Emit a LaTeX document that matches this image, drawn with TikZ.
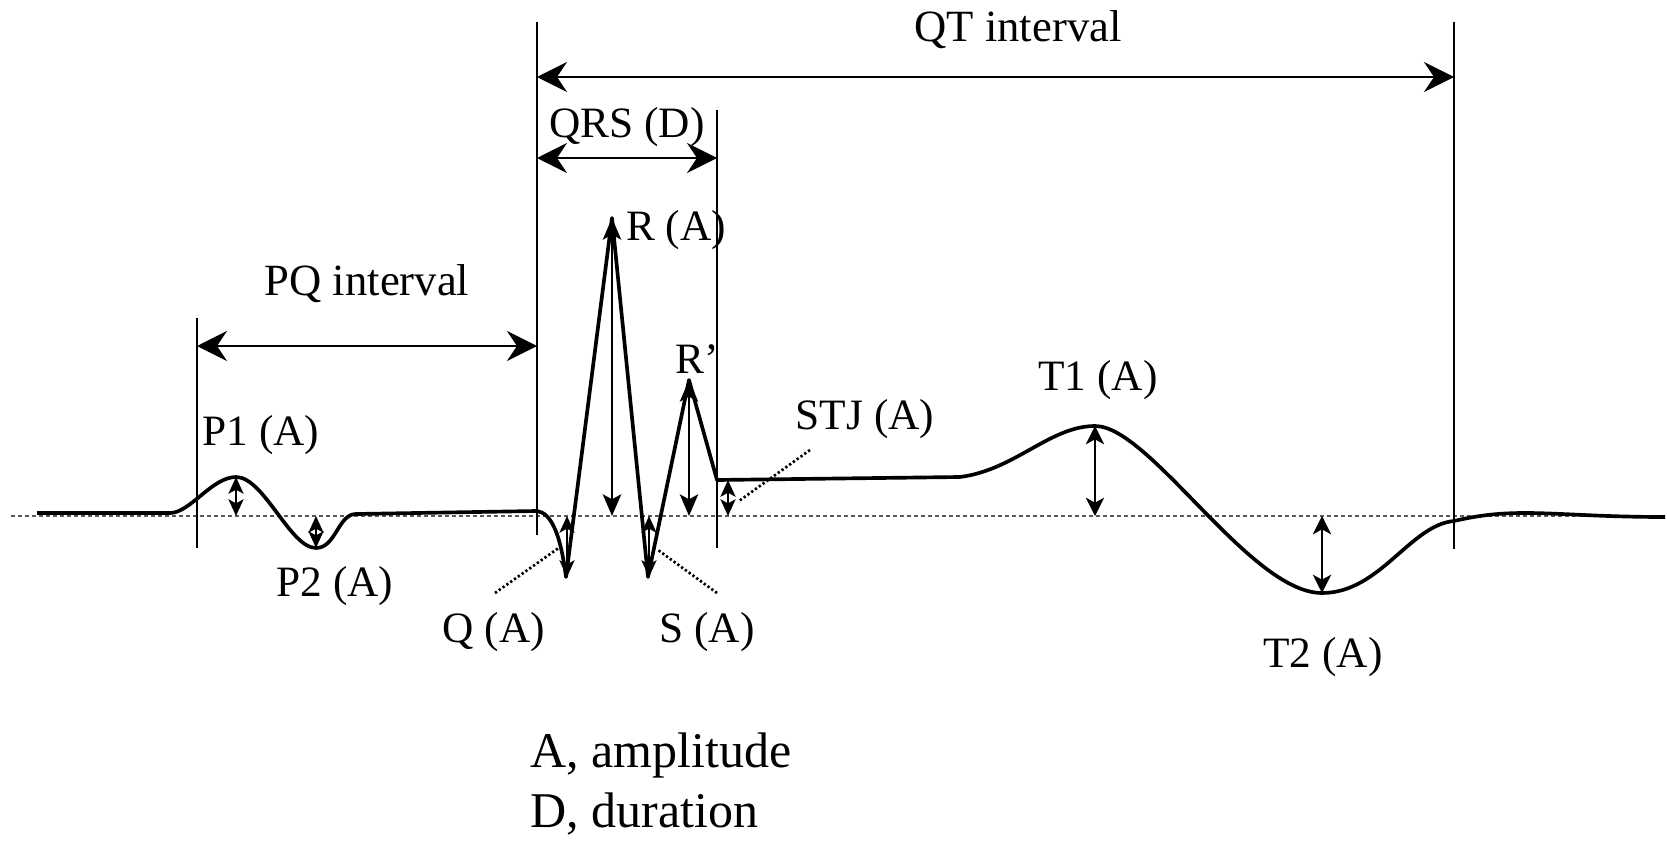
\documentclass[tikz,border=0pt]{standalone}
\usepackage{fontspec}
\setmainfont{Liberation Serif}
\usetikzlibrary{arrows.meta}

\begin{document}
\begin{tikzpicture}[
    x=0.3pt,
    y=-0.3pt,
    signal/.style={line width=1.1pt, line join=round},
    bar/.style={line width=0.85pt},
    span/.style={
        line width=0.55pt,
        {Stealth[length=9pt,width=9pt,inset=3pt]}-{Stealth[length=9pt,width=9pt,inset=3pt]}
      },
    bigamp/.style={
        line width=0.65pt,
        {Stealth[length=6.5pt,width=5.5pt,inset=1.5pt]}-{Stealth[length=6.5pt,width=5.5pt,inset=1.5pt]}
      },
    midamp/.style={
        line width=0.6pt,
        {Stealth[length=5.5pt,width=5.5pt,inset=1.5pt]}-{Stealth[length=5.5pt,width=5.5pt,inset=1.5pt]}
      },
    smallamp/.style={
        line width=0.7pt,
        {Stealth[length=5pt,width=4.5pt,inset=1.2pt]}-{Stealth[length=5pt,width=4.5pt,inset=1.2pt]}
      },
    leader/.style={line width=0.8pt, dash pattern=on 0.7pt off 0.7pt},
    lbl/.style={anchor=base, inner sep=0pt, font=\fontsize{13}{15}\selectfont},
    spanlbl/.style={anchor=base, inner sep=0pt, font=\fontsize{13.4}{16}\selectfont},
    keylbl/.style={anchor=base west, inner sep=0pt, font=\fontsize{15}{18}\selectfont}
  ]
    % Frame of the picture
    \useasboundingbox (0,0) rectangle (1667,850);

    % Wave landmarks
    \coordinate (base) at (0,516);
    \coordinate (p1) at (236,477);
    \coordinate (p2) at (316,548);
    \coordinate (q) at (566,577);
    \coordinate (r) at (612,218);
    \coordinate (s) at (648,577);
    \coordinate (rr) at (689,380);
    \coordinate (j) at (717,480);
    \coordinate (stj) at (728,480);
    \coordinate (t1) at (1095,426);
    \coordinate (t2) at (1322,593);

    % Draw baseline
    \draw[gray!70!black, line width=0.35pt, dash pattern=on 1.2pt off 0.9pt] (11,516) -- (1662,516);

    % Draw signal
    \draw[signal] (37,513) -- (170,513)
      .. controls (190,513) and (212,477) .. (p1)
      .. controls (264,477) and (290,548) .. (p2)
      .. controls (336,548) and (338,514) .. (356,514) -- (537,511)
      .. controls (550,513) and (560,530) .. (q)
      -- (r) -- (s) -- (rr) -- (j) -- (960,477)
      .. controls (1015,470) and (1050,426) .. (t1)
      .. controls (1150,426) and (1250,593) .. (t2)
      .. controls (1380,593) and (1410,525) .. (1454,521)
      .. controls (1480,515) and (1500,513) .. (1525,513)
      .. controls (1560,513) and (1600,517) .. (1665,517);

    % Draw interval bars
    \draw[bar] (197,318) -- (197,548);
    \draw[bar] (537,22) -- (537,535);
    \draw[bar] (717,110) -- (717,548);
    \draw[bar] (1454,22) -- (1454,549);

    % Interval spans
    \coordinate (qtL) at (537,77);
    \coordinate (qtR) at (1454,77);
    \coordinate (qrsL) at (537,158);
    \coordinate (qrsR) at (717,158);
    \coordinate (pqL) at (197,346);
    \coordinate (pqR) at (537,346);
    \draw[span] (qtL) -- (qtR);
    \draw[span] (qrsL) -- (qrsR);
    \draw[span] (pqL) -- (pqR);

    % Amplitude arrows
    \draw[smallamp] (p1) -- (p1 |- base);
    \draw[smallamp] (p2 |- base) -- (p2);
    \draw[smallamp] (567,516) -- (567,577);
    \draw[bigamp] (r) -- (r |- base);
    \draw[smallamp] (649,516) -- (649,577);
    \draw[bigamp] (rr) -- (rr |- base);
    \draw[smallamp] (stj) -- (stj |- base);
    \draw[midamp] (t1) -- (t1 |- base);
    \draw[midamp] (t2 |- base) -- (t2);

    % Dotted leaders
    \coordinate (qlead) at (495,593);
    \coordinate (qtip) at (560,547);
    \coordinate (slead) at (717,593);
    \coordinate (stip) at (658,550);
    \coordinate (jlead) at (810,450);
    \coordinate (jtip) at (739,501);
    \draw[leader] (qlead) -- (qtip);
    \draw[leader] (slead) -- (stip);
    \draw[leader] (jlead) -- (jtip);

    % Labels
    \node[spanlbl] (qtlbl) at (1018,42) {QT interval};
    \node[lbl] (qrslbl) at (627,138) {QRS (D)};
    \node[spanlbl] (pqlbl) at (367,295) {PQ interval};
    \node[lbl] (rlbl) at (676,240) {R (A)};
    \node[lbl] (rrlbl) at (697,373) {R’};
    \node[lbl] (p1lbl) at (261,445) {P1 (A)};
    \node[lbl] (p2lbl) at (335,596) {P2 (A)};
    \node[lbl] (qlbl) at (494,642) {Q (A)};
    \node[lbl] (slbl) at (707,642) {S (A)};
    \node[lbl] (stjlbl) at (865,429) {STJ (A)};
    \node[lbl] (t1lbl) at (1098,390) {T1 (A)};
    \node[lbl] (t2lbl) at (1323,667) {T2 (A)};

    % Key
    \node[keylbl] (keya) at (530,767) {A, amplitude};
    \node[keylbl] (keyd) at (530,827) {D, duration};
\end{tikzpicture}
\end{document}
